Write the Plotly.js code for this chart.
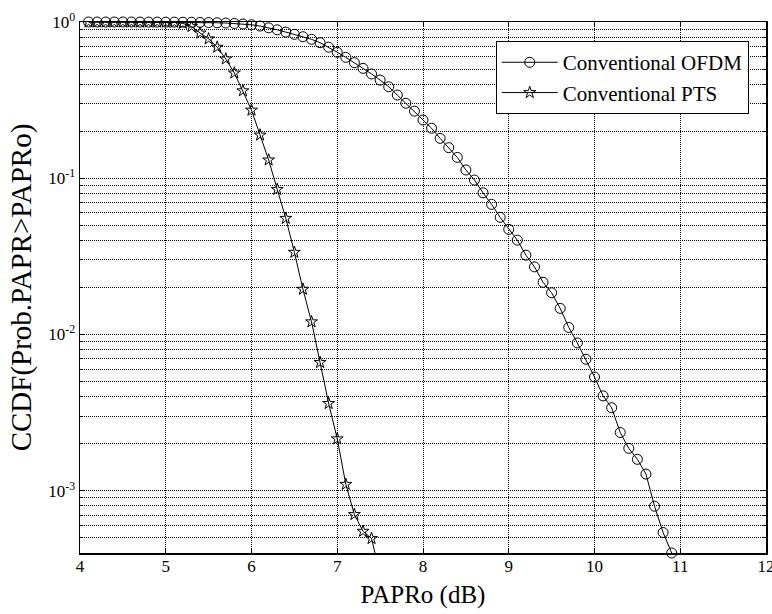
<!DOCTYPE html>
<html>
<head>
<meta charset="utf-8">
<script src="https://cdn.plot.ly/plotly-3.0.1.min.js"></script>
<style>html,body{margin:0;padding:0;background:#fff;}#chart{width:772px;height:614px;}</style>
</head>
<body>
<div id="chart"></div>
<script>
// PAPRo (dB) sample points
var ofdmX = [4.1,4.2,4.3,4.4,4.5,4.6,4.7,4.8,4.9,5.0,
             5.1,5.2,5.3,5.4,5.5,5.6,5.7,5.8,5.9,6.0,
             6.1,6.2,6.3,6.4,6.5,6.6,6.7,6.8,6.9,7.0,
             7.1,7.2,7.3,7.4,7.5,7.6,7.7,7.8,7.9,8.0,
             8.1,8.2,8.3,8.4,8.5,8.6,8.7,8.8,8.9,9.0,
             9.1,9.2,9.3,9.4,9.5,9.6,9.7,9.8,9.9,10.0,
             10.1,10.2,10.3,10.4,10.5,10.6,10.7,10.8,10.9];
var ofdmY = [1.0,1.0,1.0,1.0,1.0,1.0,0.999,0.999,0.999,0.998,
             0.998,0.997,0.996,0.994,0.992,0.989,0.985,0.979,0.971,0.96,
             0.942,0.918,0.891,0.862,0.834,0.805,0.775,0.737,0.69,0.64,
             0.594,0.549,0.505,0.465,0.425,0.385,0.341,0.302,0.269,0.236,
             0.209,0.18,0.157,0.136,0.113,0.0974,0.0807,0.0681,0.0562,0.0471,
             0.0402,0.0322,0.0271,0.0216,0.0185,0.0147,0.0111,0.00884,0.00695,0.00535,
             0.00405,0.0034,0.00236,0.00187,0.00159,0.00128,0.000797,0.000541,0.0004];

var ptsX = [4.1,4.2,4.3,4.4,4.5,4.6,4.7,4.8,4.9,5.0,
            5.1,5.2,5.3,5.4,5.5,5.6,5.7,5.8,5.9,6.0,
            6.1,6.2,6.3,6.4,6.5,6.6,6.7,6.8,6.9,7.0,
            7.1,7.2,7.3,7.4,7.5];
var ptsY = [1.0,1.0,1.0,1.0,1.0,1.0,1.0,0.999,0.999,0.998,
            0.996,0.98,0.935,0.85,0.78,0.69,0.58,0.472,0.363,0.273,
            0.189,0.131,0.0849,0.0554,0.0336,0.0195,0.01206,0.00663,0.00362,0.00215,
            0.0011,0.000705,0.000551,0.000495,0.00029];

var seriesNames = ['Conventional OFDM', 'Conventional PTS'];
var xTickVals = [4,5,6,7,8,9,10,11,12];
var yTickVals = [1, 0.1, 0.01, 0.001];
var yTickText = ['10<sup>0</sup>', '10<sup>-1</sup>', '10<sup>-2</sup>', '10<sup>-3</sup>'];
var yMinorVals = [0.0004,0.0005,0.0006,0.0007,0.0008,0.0009,
                  0.002,0.003,0.004,0.005,0.006,0.007,0.008,0.009,
                  0.02,0.03,0.04,0.05,0.06,0.07,0.08,0.09,
                  0.2,0.3,0.4,0.5,0.6,0.7,0.8,0.9];

var FONT = 'Liberation Serif';
var GRID = '#000';
var DOT = '1px,1px';

var traces = [
  {
    x: ofdmX, y: ofdmY, name: seriesNames[0], type: 'scatter', mode: 'lines+markers',
    line: {color: '#000', width: 1},
    marker: {symbol: 'circle-open', size: 10, color: '#000', line: {width: 1, color: '#000'}},
    cliponaxis: false
  },
  {
    x: ptsX, y: ptsY, name: seriesNames[1], type: 'scatter', mode: 'lines+markers',
    line: {color: '#000', width: 1},
    marker: {symbol: 'star-open', size: 9, color: '#000', line: {width: 1, color: '#000'}},
    cliponaxis: true
  }
];

var layout = {
  width: 772, height: 614,
  margin: {l: 80, r: 6, t: 22, b: 61},
  paper_bgcolor: '#fff', plot_bgcolor: '#fff',
  font: {family: FONT, color: '#000', size: 16},
  showlegend: true,
  legend: {
    x: 0.606, y: 0.964, xanchor: 'left', yanchor: 'top',
    bgcolor: '#fff', bordercolor: '#000', borderwidth: 1,
    font: {family: FONT, size: 21, color: '#000'},
    itemwidth: 56,
    tracegroupgap: 0
  },
  xaxis: {
    range: [4, 12], tickmode: 'array', tickvals: xTickVals,
    ticks: 'inside', ticklen: 5, tickcolor: '#000', mirror: 'allticks',
    showline: true, linecolor: '#000', linewidth: 1.5,
    showgrid: true, gridcolor: GRID, griddash: DOT, gridwidth: 1,
    zeroline: false, ticklabeloverflow: 'allow', ticklabelstandoff: -3,
    tickfont: {family: FONT, size: 17, color: '#000'},
    title: {text: 'PAPRo (dB)', font: {family: FONT, size: 25, color: '#000'}, standoff: 10}
  },
  yaxis: {
    type: 'log', range: [Math.log10(0.0004), 0],
    tickmode: 'array', tickvals: yTickVals, ticktext: yTickText,
    ticks: 'inside', ticklen: 5, tickcolor: '#000', mirror: 'allticks',
    showline: true, linecolor: '#000', linewidth: 1.5,
    showgrid: true, gridcolor: GRID, griddash: DOT, gridwidth: 1,
    zeroline: false,
    tickfont: {family: FONT, size: 17, color: '#000'},
    minor: {tickmode: 'array', tickvals: yMinorVals, ticks: 'inside', ticklen: 3, tickcolor: '#000',
            showgrid: true, gridcolor: GRID, griddash: DOT, gridwidth: 1},
    title: {text: 'CCDF(Prob.PAPR>PAPRo)', font: {family: FONT, size: 29, color: '#000'}, standoff: 8}
  }
};

Plotly.newPlot('chart', traces, layout, {displayModeBar: false, staticPlot: true});
</script>
</body>
</html>
